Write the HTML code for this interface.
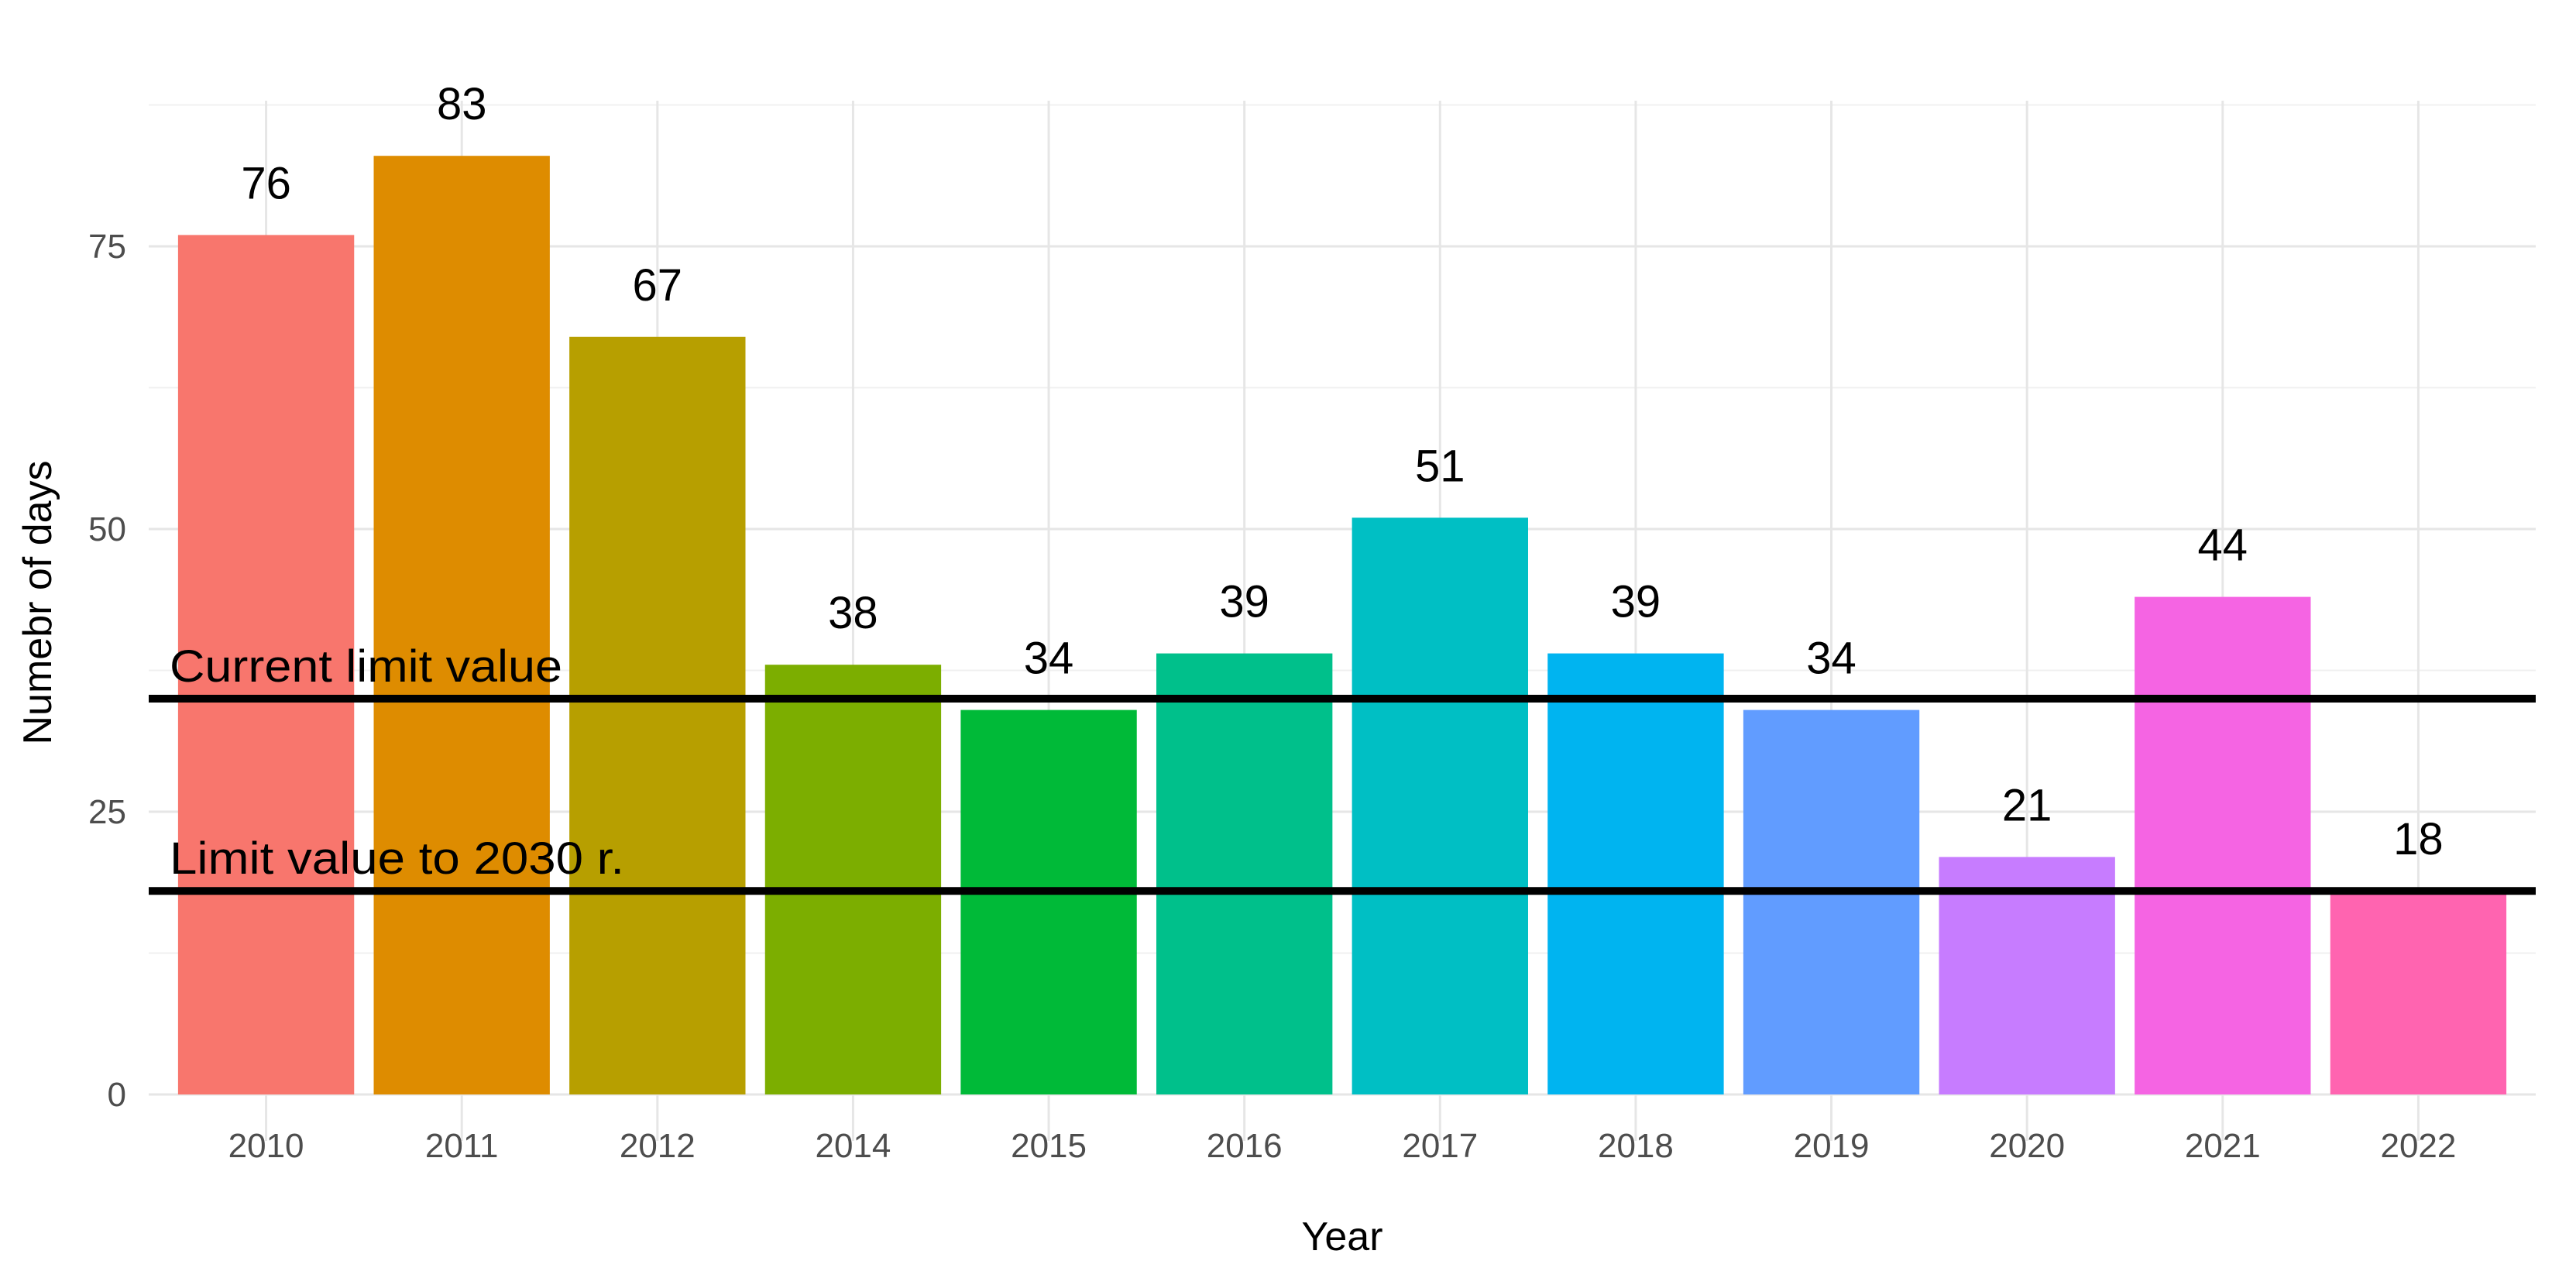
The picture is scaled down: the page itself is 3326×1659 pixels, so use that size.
<!DOCTYPE html>
<html><head><meta charset="utf-8"><style>
html,body{margin:0;padding:0;background:#fff;}
svg{display:block;font-family:"Liberation Sans",Arial,sans-serif;}
</style></head><body>
<svg id="chart" width="3326" height="1659" viewBox="0 0 3326 1659" xmlns="http://www.w3.org/2000/svg">
<g id="grid"></g>
<g id="bars"></g>
<g id="labels"></g>
<g id="refs"></g>
<g id="axes"></g>
<text x="1733" y="1614" font-size="52" text-anchor="middle" fill="#000">Year</text>
<text transform="translate(66,778) rotate(-90)" font-size="52" text-anchor="middle" fill="#000">Numebr of days</text>
</svg>
<script>
const categories = ["2010","2011","2012","2014","2015","2016","2017","2018","2019","2020","2021","2022"];
const values = [76,83,67,38,34,39,51,39,34,21,44,18];
const colors = ["#F8766D","#DE8C00","#B79F00","#7CAE00","#00BA38","#00C08B","#00BFC4","#00B4F0","#619CFF","#C77CFF","#F564E3","#FF64B0"];
const yTicks = [0,25,50,75];
const yMinor = [12.5,37.5,62.5,87.5];
const refValues = [35,18];
const refLabels = ["Current limit value","Limit value to 2030 r."];

const NS="http://www.w3.org/2000/svg";
const left=192, right=3274, y0=1413, pxPerUnit=14.6;
const step=(right-left)/(categories.length+0.2);
function xc(i){return left+step*(0.6+i);}
function y(v){return y0-v*pxPerUnit;}
function mk(tag,attrs,parent){const e=document.createElementNS(NS,tag);for(const k in attrs)e.setAttribute(k,attrs[k]);parent.appendChild(e);return e;}
const grid=document.getElementById('grid'),bars=document.getElementById('bars'),labels=document.getElementById('labels'),refs=document.getElementById('refs'),axes=document.getElementById('axes');
yMinor.forEach(v=>{const l=mk('line',{x1:left,x2:right,y1:y(v),y2:y(v),stroke:'#f0f0f0','stroke-width':2},grid);

});
yTicks.forEach(v=>{const l=mk('line',{x1:left,x2:right,y1:y(v),y2:y(v),stroke:'#e6e6e6','stroke-width':3},grid);


const t=mk('text',{x:163,y:y(v)+15,'font-size':44,'text-anchor':'end',fill:'#4d4d4d'},axes);t.textContent=v;

});
categories.forEach((c,i)=>{const l=mk('line',{x1:xc(i),x2:xc(i),y1:130,y2:y0+60,stroke:'#e6e6e6','stroke-width':3},grid);


const bw=step*0.9;
const r=mk('rect',{x:xc(i)-bw/2,y:y(values[i]),width:bw,height:values[i]*pxPerUnit,fill:colors[i]},bars);


const t=mk('text',{x:xc(i),y:y(values[i])-47,'font-size':58,'text-anchor':'middle',fill:'#000'},labels);t.textContent=values[i];


const xt=mk('text',{x:xc(i),y:1494,'font-size':44,'text-anchor':'middle',fill:'#4d4d4d'},axes);xt.textContent=c;

});
const lens=[507,587];
refValues.forEach((v,i)=>{const l=mk('line',{x1:left,x2:right,y1:y(v),y2:y(v),stroke:'#000','stroke-width':10},refs);


const t=mk('text',{x:219,y:y(v)-22,'font-size':58,textLength:lens[i],lengthAdjust:'spacingAndGlyphs',fill:'#000'},refs);t.textContent=refLabels[i];

});
</script>
</body></html>
